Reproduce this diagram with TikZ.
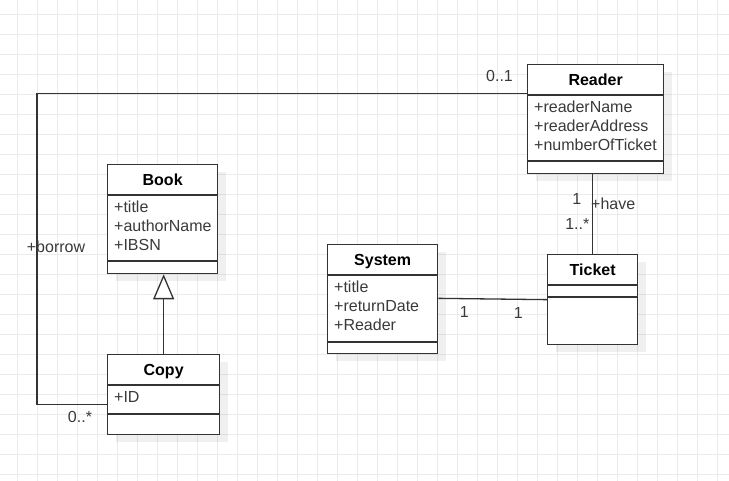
\documentclass[tikz,border=0pt]{standalone}
\usepackage{fontspec}
\setmainfont{Liberation Sans}
\usepackage{tikz}
\usetikzlibrary{arrows.meta,positioning,calc}
\definecolor{umlink}{HTML}{333333}
\definecolor{umlgrid}{HTML}{EBEBEB}
\definecolor{umllabel}{HTML}{3A3A3A}

\begin{document}
\begin{tikzpicture}[x=1pt, y=-1pt, font=\fontsize{16}{19}\selectfont,
    classbox/.style={draw=umlink, fill=white, line width=1.3pt, inner sep=0pt},
    classline/.style={draw=umlink, line width=1.3pt},
    classname/.style={font=\fontsize{16}{19}\selectfont\bfseries, text height=11.5pt, text depth=0pt, inner sep=0pt},
    classattr/.style={anchor=north west, align=left, inner sep=0pt, text=umllabel},
    assoc/.style={draw=umlink, line width=1.3pt},
    mult/.style={text=umllabel, inner sep=1pt}]
  \useasboundingbox (0,0) rectangle (729,481);
  \fill[white] (0,0) rectangle (729,481);
  % background grid
  \foreach \k in {0,...,35}
    \draw[umlgrid, line width=1pt] (17.3+20*\k,0) -- (17.3+20*\k,481);
  \foreach \k in {0,...,23}
    \draw[umlgrid, line width=1pt] (0,14.7+20*\k) -- (729,14.7+20*\k);
  % classes: name/left/top/width/height/header rule/attribute rule/title/attributes
  \foreach \cname/\cx/\cy/\cw/\ch/\hs/\as/\ctitle/\cattr in {
      book/107/164/110/109/31/97/Book/{+title\\+authorName\\+IBSN},
      copy/107/354/112/80/31/60/Copy/{+ID},
      reader/527/64/136/109/31/97/Reader/{+readerName\\+readerAddress\\+numberOfTicket},
      system/327/244/110/109/31/98/System/{+title\\+returnDate\\+Reader},
      ticket/547/254/90/90/31/43/Ticket/{}} {
    \fill[black, opacity=0.06] (\cx+9,\cy+8) rectangle ++(\cw,\ch);
    \node[classbox, minimum width=\cw, minimum height=\ch, anchor=north west] (\cname) at (\cx,\cy) {};
    \draw[classline] ($(\cname.north west)+(0,\hs)$) -- ($(\cname.north east)+(0,\hs)$);
    \draw[classline] ($(\cname.north west)+(0,\as)$) -- ($(\cname.north east)+(0,\as)$);
    \node[classname] (\cname-title) at ($(\cname.north)+(0,\hs/2)$) {\ctitle};
    \node[classattr] (\cname-attr) at ($(\cname.north west)+(7,\hs+6.2)$) {\cattr};
  }
  % generalization Copy -> Book
  \draw[assoc, -{Triangle[length=25pt, width=21pt, fill=white]}] (copy.north) -- (copy.north |- book.south);
  % borrow: Copy -- Reader
  \coordinate (copy-end) at ([yshift=-10pt]copy.west);
  \coordinate (reader-end) at ([yshift=-29.5pt]reader.north west);
  \draw[assoc] (copy-end) -- ++(-70,0) |- (reader-end);
  \node[mult] (borrow-lbl) at (56,246.7) {+borrow};
  \node[mult] (copy-mult) at (80,417) {0..*};
  \node[mult] (reader-mult) at (499.5,76) {0..1};
  % have: Reader -- Ticket
  \draw[assoc] (ticket.north) -- (ticket.north |- reader.south);
  \node[mult] (have-one) at (576.7,199.3) {1};
  \node[mult, anchor=west] (have-lbl) at (590,204) {+have};
  \node[mult] (have-many) at (577.3,224) {1..*};
  % System -- Ticket
  \draw[assoc] ([yshift=0.8pt]system.east) -- (ticket.west);
  \node[mult] (system-one) at (464.3,311.7) {1};
  \node[mult] (ticket-one) at (518.3,312.7) {1};
\end{tikzpicture}
\end{document}
